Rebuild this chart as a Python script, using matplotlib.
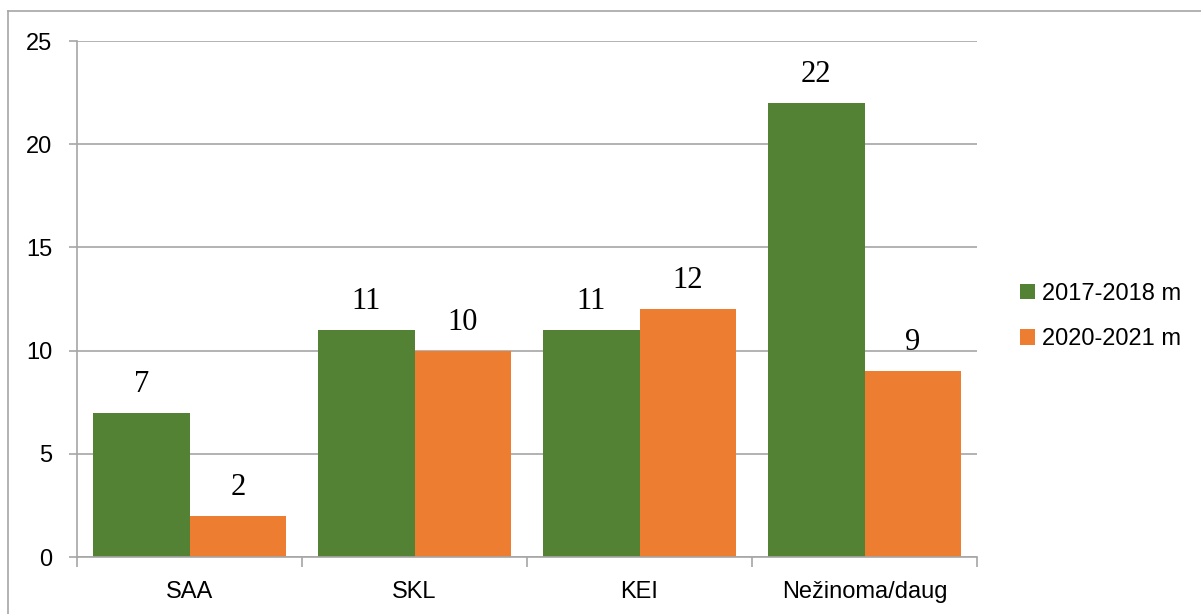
import numpy as np
import matplotlib
matplotlib.use("Agg")
import matplotlib.pyplot as plt
from matplotlib.lines import Line2D

categories = ["SAA", "SKL", "KEI", "Nežinoma/daug"]
series_names = ["2017-2018 m", "2020-2021 m"]
values_2017 = [7, 11, 11, 22]
values_2020 = [2, 10, 12, 9]
yticks = [0, 5, 10, 15, 20, 25]

green = "#548235"
orange = "#ED7D31"
gray = "#A6A6A6"

fig = plt.figure(figsize=(12.01, 6.14), dpi=100)
ax = fig.add_axes([77 / 1201, 1 - 557 / 614, 900 / 1201, (557 - 41) / 614])

x = np.arange(len(categories)) + 0.5
w = 0.43
b1 = ax.bar(x - w / 2, values_2017, w, color=green, label=series_names[0], zorder=2)
b2 = ax.bar(x + w / 2, values_2020, w, color=orange, label=series_names[1], zorder=2)

for bars in (b1, b2):
    ax.bar_label(bars, padding=10, fontsize=22, family="Liberation Serif")

ax.set_xlim(0, len(categories))
ax.set_ylim(0, 25)
ax.set_yticks(yticks)
ax.set_yticklabels([str(t) for t in yticks])
ax.yaxis.grid(True, color=gray, linewidth=1.2, zorder=0)
ax.set_axisbelow(True)

ax.set_xticks(x)
ax.set_xticklabels(categories)
ax.set_xticks(np.arange(len(categories) + 1), minor=True)
ax.tick_params(axis="x", which="major", length=0, pad=17)
ax.tick_params(axis="x", which="minor", length=7, width=1.2, color=gray)
ax.tick_params(axis="y", length=6, width=1.2, color=gray, pad=12)
for lab in ax.get_xticklabels() + ax.get_yticklabels():
    lab.set_family("Liberation Sans")
    lab.set_fontsize(17)

for s in ["top", "right"]:
    ax.spines[s].set_visible(False)
for s in ["left", "bottom"]:
    ax.spines[s].set_color(gray)
    ax.spines[s].set_linewidth(1.2)

ax.legend(loc="center left", bbox_to_anchor=(1020 / 1201, 1 - 316.5 / 614),
          bbox_transform=fig.transFigure, frameon=False, borderpad=0,
          borderaxespad=0, handlelength=0.65, handleheight=0.65,
          handletextpad=0.3, labelspacing=1.0,
          prop={"family": "Liberation Sans", "size": 17})

# outer chart border (only left and top edges visible)
fig.add_artist(Line2D([8 / 1201, 8 / 1201], [0, 1 - 11 / 614], color=gray, linewidth=1.2))
fig.add_artist(Line2D([8 / 1201, 1], [1 - 11 / 614, 1 - 11 / 614], color=gray, linewidth=1.2))

fig.savefig("out.png", dpi=100)
